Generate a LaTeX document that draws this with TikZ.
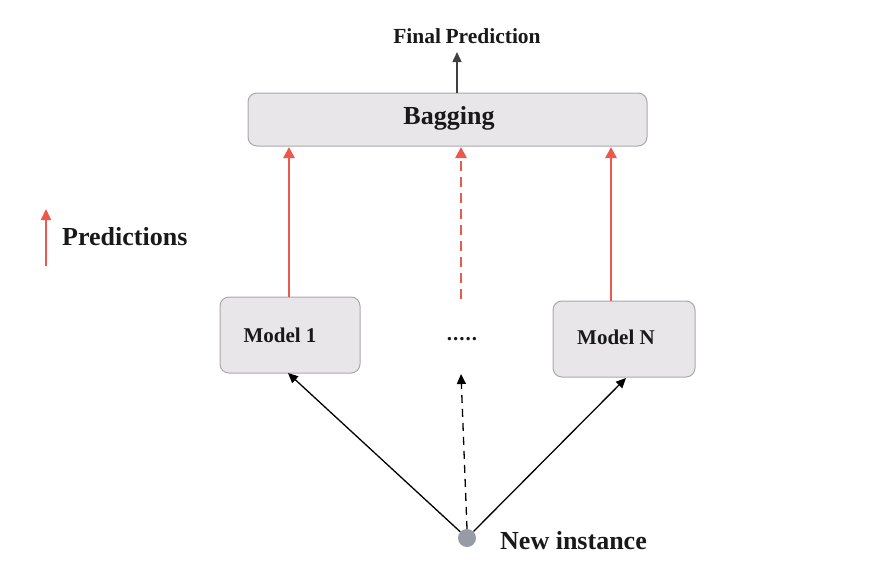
\documentclass[tikz,border=0pt]{standalone}
\usepackage{fontspec}
\setmainfont{Liberation Serif}
\usetikzlibrary{arrows.meta}
\definecolor{predred}{RGB}{236,88,76}
\definecolor{boxfill}{RGB}{232,230,233}
\definecolor{boxdraw}{RGB}{170,168,172}
\definecolor{dotgray}{RGB}{150,155,165}
\begin{document}
\begin{tikzpicture}[x=1pt,y=-1pt,
  box/.style={draw=boxdraw, fill=boxfill, rounded corners=9pt, line width=1pt, inner sep=0pt},
  redarrow/.style={draw=predred, line width=2.6pt, -{Triangle[length=11pt,width=11pt]}},
  blackarrow/.style={draw=black, line width=1.3pt, -{Triangle[length=10pt,width=9pt]}},
  lbl/.style={font=\bfseries, text=black!90, inner sep=0pt}
]
\useasboundingbox (0,0) rectangle (880,584);
\node[box, minimum width=399pt, minimum height=53pt] (bag) at (447.5,119.5) {};
\node[lbl, font=\fontsize{26}{28}\selectfont\bfseries] (bagt) at (449,118) {Bagging};
\node[lbl, font=\fontsize{21.5}{23}\selectfont\bfseries] (final) at (467,36) {Final\kern-1pt\ Prediction};
\coordinate (fbot) at (457,93);
\coordinate (ftop) at (457,52);
\draw[draw=black!75, line width=1.5pt, -{Triangle[length=10pt,width=9pt]}] (fbot) -- (ftop);

\node[box, minimum width=140pt, minimum height=76pt] (m1) at (290,335) {};
\node[lbl, font=\fontsize{21}{23}\selectfont\bfseries] at (280,335) {Model 1};
\node[box, minimum width=142pt, minimum height=76pt] (mn) at (624,339) {};
\node[lbl, font=\fontsize{21}{23}\selectfont\bfseries] at (616,337) {Model N};
\node[lbl, font=\fontsize{21}{23}\selectfont\bfseries, anchor=base] (dots) at (462,340) {.\kern1pt.\kern1pt.\kern1pt.\kern1pt.};

\coordinate (r1s) at (289,297);
\coordinate (r1e) at (289,147);
\coordinate (r2s) at (461,299);
\coordinate (r2e) at (461,147);
\coordinate (r3s) at (611,301);
\coordinate (r3e) at (611,147);
\draw[redarrow] (r1s) -- (r1e);
\draw[redarrow, dash pattern=on 10pt off 6pt] (r2s) -- (r2e);
\draw[redarrow] (r3s) -- (r3e);

\node[circle, fill=dotgray, minimum size=18pt, inner sep=0pt] (inst) at (467,538) {};
\node[lbl, font=\fontsize{26}{28}\selectfont\bfseries, anchor=west] at (500,541) {New instance};
\coordinate (a1) at (288,373);
\coordinate (a2) at (461,374);
\coordinate (a3) at (626,378);
\draw[blackarrow] (inst) -- (a1);
\draw[blackarrow, dash pattern=on 8pt off 6pt] (inst.north) -- (a2);
\draw[blackarrow] (inst) -- (a3);

\coordinate (ls) at (46,266);
\coordinate (le) at (46,209);
\draw[draw=predred, line width=2.2pt, -{Triangle[length=11pt,width=10pt]}] (ls) -- (le);
\node[lbl, font=\fontsize{26}{28}\selectfont\bfseries, anchor=west] (pred) at (62,237) {Predictions};
\end{tikzpicture}
\end{document}
